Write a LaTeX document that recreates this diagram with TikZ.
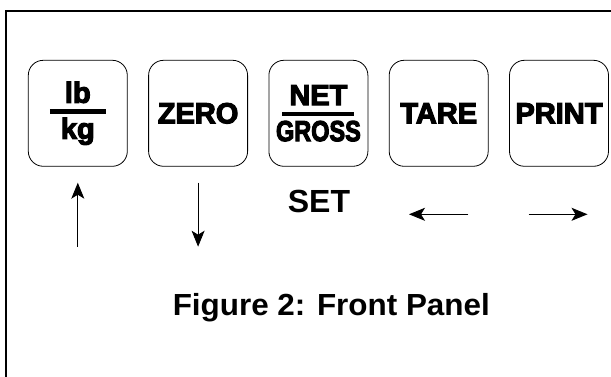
\documentclass[tikz,border=0pt]{standalone}
\usepackage{fontspec}
\usepackage{graphicx}
\setmainfont{Liberation Sans}
\newfontfamily\keyfont{Liberation Sans Bold}[FakeBold=4]
\usetikzlibrary{positioning, arrows.meta}

\begin{document}
\begin{tikzpicture}[x=1pt, y=-1pt, node distance=20.5pt,
        key/.style={draw, line width=0.8pt, rounded corners=15pt,
            minimum width=99pt, minimum height=106pt, inner sep=0pt,
            font=\keyfont\fontsize{29}{29}\selectfont, align=center},
        arr/.style={line width=0.9pt, -{Stealth[length=16pt, width=13pt, inset=4pt]}}]
            \useasboundingbox (0,0) rectangle (611,377);
            \draw [line width=2pt] (6,377) -- (6,11) -- (611,11);

            \node [key] (lbkg) at (77.8,113.3)
                {lb\\[-18pt]\rule{56pt}{4.5pt}\\[-4pt]kg};
            \node [key, right=of lbkg] (zero) {\raisebox{-2pt}{ZERO}};
            \node [key, right=of zero] (netgross)
                {NET\\[-18pt]\rule{72pt}{4.5pt}\\[-4pt]\scalebox{0.81}[1]{GROSS}};
            \node [key, right=of netgross] (tare) {\raisebox{-2pt}{TARE}};
            \node [key, right=of tare] (print) {\raisebox{-2pt}{PRINT}};

            % free ends of the arrow keys
            \coordinate (upA) at ([yshift=-80pt]lbkg.south);
            \coordinate (upB) at ([yshift=-16pt]lbkg.south);
            \coordinate (downA) at ([yshift=-16pt]zero.south);
            \coordinate (downB) at ([yshift=-80pt]zero.south);
            \coordinate (leftA) at ([xshift=29.7pt, yshift=-47.6pt]tare.south);
            \coordinate (leftB) at ([xshift=-29.7pt, yshift=-47.6pt]tare.south);
            \coordinate (rightA) at ([xshift=-30.5pt, yshift=-47.6pt]print.south);
            \coordinate (rightB) at ([xshift=28.5pt, yshift=-47.6pt]print.south);

            \draw [arr] (upA) -- (upB);
            \draw [arr] (downA) -- (downB);
            \draw [arr] (leftA) -- (leftB);
            \draw [arr] (rightA) -- (rightB);

            \node [font=\bfseries\fontsize{32}{32}\selectfont, anchor=base]
                (set) at (319,213) {SET};
            \node [font=\bfseries\fontsize{30.5}{30.5}\selectfont, anchor=base]
                (caption) at (331.3,315) {\scalebox{1.03}[1]{Figure 2: Front Panel}};
        \end{tikzpicture}
\end{document}
